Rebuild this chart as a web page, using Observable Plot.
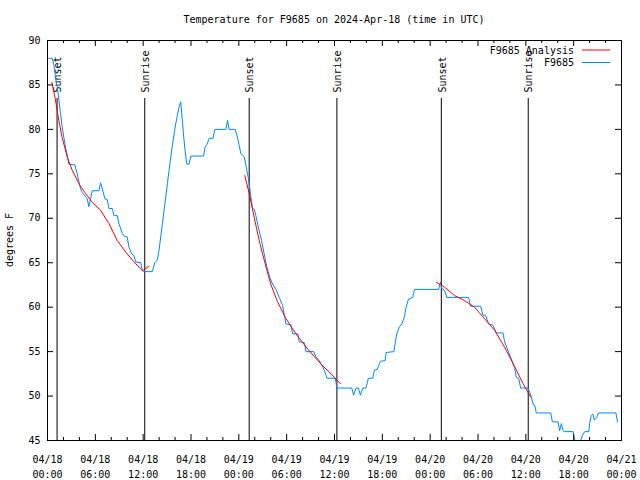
<!DOCTYPE html>
<html>
<head>
<meta charset="utf-8">
<script src="https://cdn.jsdelivr.net/npm/d3@7"></script>
<script src="https://cdn.jsdelivr.net/npm/@observablehq/plot@0.6"></script>
<style>
  html, body { margin: 0; padding: 0; background: #fff; }
  #chart { width: 640px; height: 480px; }
  svg { font-family: 'DejaVu Sans Mono', monospace; }
</style>
</head>
<body>
<div id="chart"></div>
<script>
// ---- data (hours since 2024-04-18 00:00 UTC) ----
const titleText = "Temperature for F9685 on 2024-Apr-18 (time in UTC)";
const yLabel = "degrees F";
const seriesNames = ["F9685 Analysis", "F9685"];
const seriesColors = ["#ff0000", "#0088ff"];

const obsHours = [0.15,0.6,0.8,1.0,1.22,1.42,1.63,1.84,2.05,2.26,2.47,2.68,3.43,3.73,3.94,4.15,4.36,4.98,5.19,5.4,5.61,6.45,6.66,6.87,7.2,7.5,7.71,8.13,8.34,8.75,8.96,9.38,9.6,10.0,10.2,10.55,10.85,11.06,11.69,11.9,12.05,13.15,13.45,13.78,13.99,14.2,14.41,14.62,14.83,15.04,15.25,15.46,15.67,15.88,16.08,16.3,16.5,16.71,16.93,17.05,17.26,17.47,17.76,17.97,19.56,19.77,20.0,20.28,20.77,20.98,22.37,22.58,22.79,23.54,23.83,24.04,24.25,24.67,24.88,25.09,25.3,25.51,25.72,25.95,26.26,26.55,26.85,27.18,27.52,27.94,28.24,28.65,29.07,29.49,29.91,30.54,30.74,31.4,31.58,32.21,32.42,33.39,33.68,34.09,34.5,34.72,35.06,36.1,36.3,38.16,38.4,38.7,39.0,39.25,39.55,39.95,40.25,40.8,41.0,41.35,41.76,42.35,42.47,43.44,43.64,43.81,44.14,44.44,44.77,44.98,45.28,45.83,46.03,49.05,49.3,49.46,49.8,50.1,52.82,53.07,54.33,54.62,54.95,55.33,55.85,56.3,57.13,57.34,57.76,58.26,58.6,58.8,59.1,59.35,60.28,60.48,60.69,60.9,61.1,61.32,63.12,63.33,64.04,64.24,64.46,64.67,64.88,65.93,66.14,66.5,66.9,67.1,67.4,67.9,68.0,68.2,68.4,68.6,68.9,69.1,71.3,71.5];
const obsTemps = [88.0,88.0,87.2,85.9,84.8,83.4,81.8,80.3,79.1,78.0,77.1,76.1,76.0,75.0,74.1,73.3,72.9,72.2,71.3,72.2,73.1,73.1,74.0,73.3,72.2,72.1,71.1,71.1,70.3,70.3,69.4,68.3,68.0,67.9,66.8,66.0,65.8,65.1,65.0,64.1,64.0,64.0,65.0,65.3,66.4,67.9,69.4,70.9,72.4,73.9,75.4,76.9,78.2,79.5,80.6,81.6,82.5,83.1,80.8,79.5,77.6,76.1,76.1,77.0,77.0,78.0,78.3,79.0,79.0,80.0,80.0,81.0,80.0,80.0,79.1,78.2,77.3,76.9,76.0,75.0,73.9,72.4,71.1,71.0,69.8,68.6,67.5,66.0,64.5,63.2,62.6,62.0,61.1,60.2,58.1,58.0,57.0,57.0,56.1,56.0,55.0,55.0,54.4,54.0,53.3,52.9,52.0,52.0,50.9,50.9,50.1,50.9,50.9,50.1,50.9,50.9,52.0,52.0,52.9,53.0,53.9,54.0,54.9,55.0,56.1,57.0,57.8,58.1,58.9,60.0,60.9,61.1,62.0,62.0,62.8,62.1,61.9,61.1,61.1,60.1,60.1,59.1,59.1,58.1,58.0,57.1,57.1,56.1,55.1,54.0,53.1,52.1,52.0,50.9,50.9,50.4,49.9,49.1,49.0,48.1,48.1,47.1,47.1,46.1,46.9,46.1,46.0,46.0,45.0,44.5,45.0,45.6,46.0,46.0,46.9,47.8,48.0,47.3,47.6,48.1,48.1,47.1];

const ana1Hours = [0.55,1.0,1.42,1.84,2.47,3.1,3.94,4.77,5.61,6.66,7.71,8.75,9.8,10.85,11.9,12.73];
const ana1Temps = [85.3,83.3,81.0,79.1,76.9,75.4,73.9,72.8,71.8,70.9,69.4,67.5,66.2,65.1,64.1,64.6];
const ana2Hours = [24.75,25.3,25.93,26.55,27.18,28.0,28.86,29.91,31.16,32.63,34.3,35.56,36.73];
const ana2Temps = [74.8,72.8,70.1,67.5,65.3,62.6,60.6,58.7,57.0,55.3,53.6,52.5,51.4];
const ana3Hours = [48.8,49.8,51.06,52.3,53.57,54.82,56.08,57.34,58.6,59.65,60.6];
const ana3Temps = [62.8,62.25,61.3,60.75,60.0,58.7,57.4,55.5,53.3,51.4,49.9];

const sunHours = [1.2,12.2,25.3,36.3,49.4,60.3];
const sunLabels = ["Sunset","Sunrise","Sunset","Sunrise","Sunset","Sunrise"];

const yTicks = [45,50,55,60,65,70,75,80,85,90];
const xStart = "2024-04-18T00:00Z", xEnd = "2024-04-21T00:00Z";

// ---- build ----
const t0 = new Date(xStart).getTime();
const toDate = h => new Date(t0 + h * 3600e3);
const obs = obsHours.map((h, i) => ({t: toDate(h), v: obsTemps[i]}));
const ana = [[ana1Hours, ana1Temps], [ana2Hours, ana2Temps], [ana3Hours, ana3Temps]]
  .flatMap(([hs, vs], k) => hs.map((h, i) => ({t: toDate(h), v: vs[i], seg: k})));
const sun = sunHours.map((h, i) => ({t: toDate(h), label: sunLabels[i]}));
const d0 = new Date(xStart), d1 = new Date(xEnd);
const allTicks = d3.utcHour.every(2).range(d0, new Date(d1.getTime() + 1));
const majorTicks = allTicks.filter(d => d.getUTCHours() % 6 === 0);
const minorTicks = allTicks.filter(d => d.getUTCHours() % 6 !== 0);
const fmt = d => d3.utcFormat("%m/%d")(d) + "\n" + d3.utcFormat("%H:%M")(d);

const W = 640, H = 480, mL = 47, mR = 19, mT = 40, mB = 40;
const fw = W - mL - mR, fh = H - mT - mB;

const chart = Plot.plot({
  width: W, height: H,
  marginLeft: mL, marginRight: mR, marginTop: mT, marginBottom: mB,
  style: {fontFamily: "'DejaVu Sans Mono', monospace", fontSize: "10px", background: "white", color: "black"},
  x: {type: "utc", domain: [d0, d1]},
  y: {domain: [45, 90]},
  marks: [
    Plot.ruleX(sun, {x: "t", insetTop: 58, stroke: "black", strokeWidth: 1}),
    Plot.text(sun, {x: "t", text: "label", frameAnchor: "top", dy: 52, dx: 1, rotate: -90,
      textAnchor: "start", lineAnchor: "middle", fill: "black", fontSize: 10}),
    Plot.line(obs, {x: "t", y: "v", stroke: seriesColors[1], strokeWidth: 1, clip: true}),
    Plot.line(ana, {x: "t", y: "v", z: "seg", stroke: seriesColors[0], strokeWidth: 1, clip: true}),
    // inward ticks
    Plot.ruleX(majorTicks, {x: d => d, insetTop: fh - 6, stroke: "black"}),
    Plot.ruleX(majorTicks, {x: d => d, insetBottom: fh - 6, stroke: "black"}),
    Plot.ruleX(minorTicks, {x: d => d, insetTop: fh - 3, stroke: "black"}),
    Plot.ruleX(minorTicks, {x: d => d, insetBottom: fh - 3, stroke: "black"}),
    Plot.ruleY(yTicks, {y: d => d, insetRight: fw - 6, stroke: "black"}),
    Plot.ruleY(yTicks, {y: d => d, insetLeft: fw - 6, stroke: "black"}),
    Plot.axisX({ticks: majorTicks, tickFormat: fmt, tickSize: 0, tickPadding: 12, lineHeight: 1.5, label: null, fill: "black"}),
    Plot.axisY({ticks: yTicks, tickSize: 0, tickPadding: 7, label: null, fill: "black"}),
    Plot.frame({stroke: "black", strokeWidth: 1})
  ]
});
document.getElementById("chart").appendChild(chart);

// title, y label, legend
const svg = d3.select(chart);
const g = svg.append("g").attr("font-family", "'DejaVu Sans Mono', monospace").attr("font-size", 10).attr("fill", "black");
g.append("text").attr("x", mL + fw / 2).attr("y", 23).attr("text-anchor", "middle").text(titleText);
g.append("text").attr("transform", `translate(13,${mT + fh / 2}) rotate(-90)`).attr("text-anchor", "middle").text(yLabel);
seriesNames.forEach((name, i) => {
  const y = 50 + i * 12.5;
  g.append("text").attr("x", 574).attr("y", y + 3.5).attr("text-anchor", "end").text(name);
  g.append("line").attr("x1", 582).attr("x2", 610).attr("y1", y).attr("y2", y)
    .attr("stroke", seriesColors[i]).attr("stroke-width", 1);
});
</script>
</body>
</html>
